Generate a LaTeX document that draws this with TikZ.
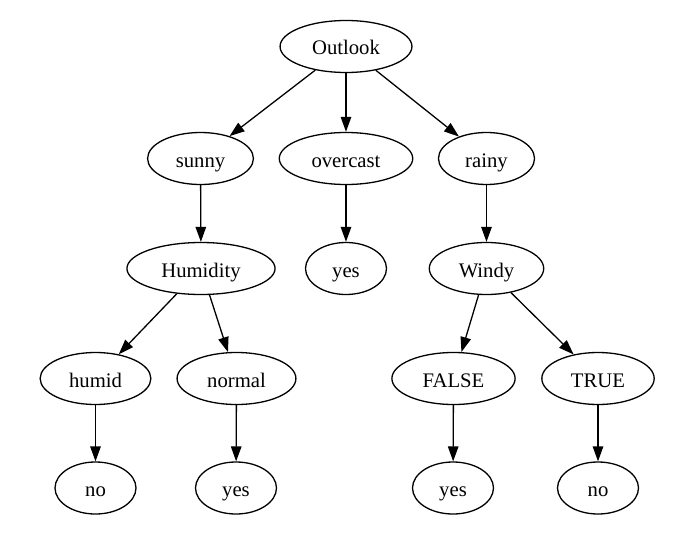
\documentclass[tikz,border=0pt]{standalone}
\usepackage{fontspec}
\setmainfont{Liberation Serif}
\usepackage{tikz}
\usetikzlibrary{arrows.meta}
\usetikzlibrary{shapes.geometric}
\tikzset{
    attr/.style={draw=black, ellipse, line width=1.3pt, inner xsep=12.7pt, inner ysep=2pt,
        text height=19pt, text depth=2pt,
        minimum width=81pt, minimum height=52pt, font=\fontsize{20.7}{24}\selectfont},
    link/.style={draw=black, line width=1.3pt, -{Triangle[length=15pt,width=10.5pt]}},
}
\begin{document}
\begin{tikzpicture}[x=1pt, y=-1pt]
	\useasboundingbox (0,0) rectangle (693,535);
	\node[attr] (outlook) at (346,46.5) {Outlook};
	\node[attr] (sunny) at (200.5,158.5) {sunny};
	\node[attr] (overcast) at (346,158.5) {overcast};
	\node[attr] (rainy) at (486.5,158.5) {rainy};
	\node[attr] (humidity) at (201,268.5) {Humidity};
	\node[attr] (yesA) at (346,268.5) {yes};
	\node[attr] (windy) at (486.5,268.5) {Windy};
	\node[attr] (humid) at (95.5,378.5) {humid};
	\node[attr] (normal) at (236.5,378.5) {normal};
	\node[attr] (false) at (453.5,378.5) {FALSE};
	\node[attr] (true) at (598,378.5) {TRUE};
	\node[attr] (noA) at (95.5,488) {no};
	\node[attr] (yesB) at (236,488) {yes};
	\node[attr] (yesC) at (453,488) {yes};
	\node[attr] (noB) at (598,488) {no};
	% first split
	\draw[link] (outlook)--(sunny);
	\draw[link] (outlook)--(overcast);
	\draw[link] (outlook)--(rainy);
	\draw[link] (sunny)--(humidity);
	\draw[link] (overcast)--(yesA);
	\draw[link] (rainy)--(windy);
	% leaves
	\draw[link] (humidity)--(humid);
	\draw[link] (humidity)--(normal);
	\draw[link] (windy)--(false);
	\draw[link] (windy)--(true);
	\draw[link] (humid)--(noA);
	\draw[link] (normal)--(yesB);
	\draw[link] (false)--(yesC);
	\draw[link] (true)--(noB);
\end{tikzpicture}
\end{document}
